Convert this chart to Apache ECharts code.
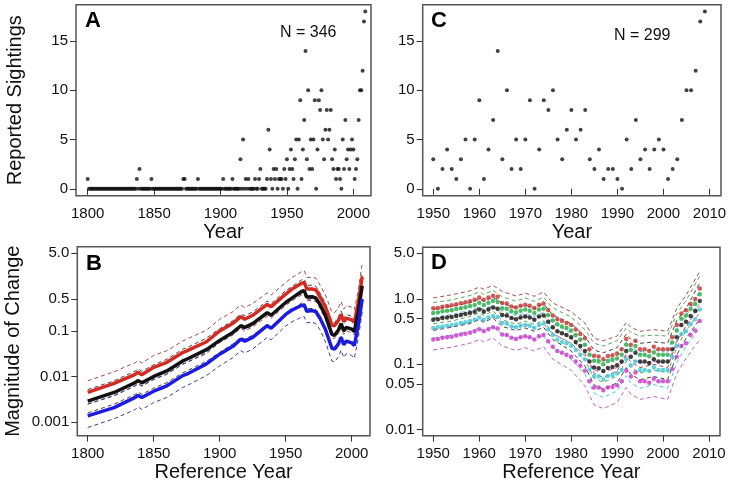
<!DOCTYPE html>
<html><head><meta charset="utf-8">
<script src="https://cdn.jsdelivr.net/npm/echarts@6/dist/echarts.min.js"></script>
<style>html,body{margin:0;padding:0;background:#fff}#c{width:732px;height:487px}</style>
</head><body><div id="c"></div>
<script>
// ---------- DATA ----------
// Panel A/C: reported sightings per year, starting 1800
const sightStartYear = 1800;
const sightings = [
  1,0,0,0,0,0,0,0,0,0,  // 1800
  0,0,0,0,0,0,0,0,0,0,  // 1810
  0,0,0,0,0,0,0,0,0,0,  // 1820
  0,0,0,0,0,0,0,1,0,2,  // 1830
  0,0,0,0,0,0,0,0,1,0,  // 1840
  0,0,0,0,0,0,0,0,0,0,  // 1850
  0,0,0,0,0,0,0,0,0,0,  // 1860
  0,0,1,1,0,0,0,0,0,0,  // 1870
  0,0,0,1,0,0,0,0,0,0,  // 1880
  0,0,0,0,0,0,0,0,0,0,  // 1890
  0,0,1,0,0,0,0,0,0,1,  // 1900
  0,0,0,0,0,3,0,5,0,1,  // 1910
  0,1,0,0,0,0,1,0,0,1,  // 1920
  2,0,0,0,0,1,6,4,1,0,  // 1930
  2,1,2,0,1,1,1,0,2,1,  // 1940
  3,0,2,4,2,1,3,5,0,5,  // 1950
  9,1,4,7,14,3,10,2,5,2, // 1960
  5,9,0,4,9,8,10,5,3,6, // 1970
  8,5,6,8,3,2,4,1,2,2,  // 1980
  1,0,5,2,7,3,4,2,4,5,  // 1990
  4,1,2,3,7,10,10,12,17,18 // 2000
];
const countTicks = [0, 5, 10, 15];
const xTicksLong = [1800, 1850, 1900, 1950, 2000];
const xTicksShort = [1950, 1960, 1970, 1980, 1990, 2000, 2010];
const logTicksB = [0.001, 0.01, 0.1, 0.5, 5];
const logTicksD = [0.01, 0.05, 0.1, 0.5, 1, 5];

// Panel B: magnitude of change, reference years 1800-2008
const bYears = [1800,1820,1836,1838,1841,1850,1860,1872,1875,1890,1900,1910,1916,1919,1925,1936,1939,1950,1955,1962,1964,1966,1970,1973,1976,1980,1985,1987,1990,1992,1994,1996,2000,2002,2005,2008];
const bRed   = [0.0045,0.0071,0.0112,0.0125,0.011,0.016,0.0206,0.0336,0.0365,0.058,0.1,0.147,0.206,0.18,0.22,0.38,0.34,0.64,0.83,1.1,1.16,0.83,0.83,0.79,0.56,0.34,0.135,0.13,0.17,0.23,0.16,0.19,0.175,0.155,0.41,1.55];
const bBlack = [0.0029,0.0045,0.0074,0.0082,0.0073,0.0101,0.0133,0.022,0.024,0.039,0.062,0.093,0.13,0.12,0.145,0.25,0.22,0.42,0.53,0.73,0.76,0.55,0.56,0.52,0.38,0.22,0.085,0.08,0.105,0.145,0.1,0.12,0.11,0.097,0.26,0.98];
const bBlue  = [0.00138,0.0021,0.0035,0.0039,0.0035,0.0048,0.0063,0.0105,0.0113,0.019,0.031,0.046,0.066,0.06,0.072,0.13,0.115,0.23,0.29,0.36,0.37,0.27,0.28,0.26,0.19,0.11,0.042,0.04,0.052,0.072,0.05,0.06,0.055,0.048,0.13,0.5];
const bRedUp   = [0.0081,0.0128,0.0202,0.0225,0.0198,0.029,0.037,0.06,0.066,0.104,0.18,0.265,0.37,0.324,0.40,0.68,0.61,1.15,1.49,1.98,2.09,1.49,1.49,1.42,1.01,0.63,0.26,0.25,0.32,0.44,0.30,0.36,0.33,0.29,0.78,3.0];
const bRedLo   = [0.0025,0.0039,0.0062,0.0069,0.0061,0.0089,0.0114,0.0187,0.0203,0.032,0.056,0.082,0.114,0.10,0.122,0.21,0.19,0.36,0.46,0.61,0.64,0.46,0.46,0.44,0.31,0.184,0.071,0.068,0.089,0.121,0.084,0.10,0.092,0.082,0.22,0.79];
const bBlackUp = [0.0052,0.0081,0.0133,0.0148,0.0131,0.0182,0.024,0.040,0.043,0.070,0.112,0.167,0.234,0.216,0.26,0.45,0.40,0.76,0.95,1.31,1.37,0.99,1.01,0.94,0.68,0.41,0.16,0.152,0.20,0.275,0.19,0.23,0.21,0.184,0.49,1.91];
const bBlackLo = [0.0016,0.0025,0.0041,0.0046,0.0041,0.0056,0.0074,0.0122,0.0133,0.0217,0.034,0.052,0.072,0.067,0.08,0.139,0.122,0.233,0.29,0.41,0.42,0.31,0.31,0.29,0.21,0.119,0.045,0.042,0.055,0.076,0.053,0.063,0.058,0.051,0.137,0.50];
const bBlueUp  = [0.0025,0.0038,0.0063,0.007,0.0063,0.0086,0.0113,0.0189,0.0203,0.034,0.056,0.083,0.119,0.108,0.13,0.234,0.207,0.41,0.52,0.65,0.67,0.49,0.50,0.47,0.34,0.20,0.08,0.076,0.099,0.137,0.095,0.114,0.105,0.091,0.25,0.98];
const bBlueLo  = [0.00077,0.0012,0.0019,0.0022,0.0019,0.0027,0.0035,0.0058,0.0063,0.0106,0.0172,0.026,0.037,0.033,0.04,0.072,0.064,0.128,0.16,0.20,0.206,0.15,0.156,0.144,0.106,0.059,0.022,0.021,0.027,0.038,0.026,0.032,0.029,0.025,0.068,0.26];

// Panel D: five estimates per reference year, 1950-2008
const dStartYear = 1950;
const dRed = [0.72,0.73,0.76,0.78,0.80,0.83,0.86,0.89,0.92,0.97, 1.05,0.97,1.05,1.12,1.08,0.87,0.85,0.77,0.74,0.79, 0.82,0.79,0.73,0.82,0.85,0.68,0.56,0.49,0.46,0.43, 0.40,0.34,0.29,0.25,0.17,0.135,0.132,0.12,0.134,0.138, 0.147,0.17,0.245,0.20,0.23,0.17,0.17,0.16,0.185,0.17, 0.17,0.17,0.26,0.40,0.60,0.67,0.84,1.0,1.45];
const dGreen = [0.61,0.62,0.65,0.66,0.67,0.70,0.72,0.75,0.78,0.81, 0.88,0.81,0.88,0.94,0.90,0.72,0.71,0.65,0.62,0.66, 0.69,0.66,0.61,0.69,0.71,0.57,0.47,0.41,0.38,0.36, 0.33,0.28,0.24,0.20,0.14,0.113,0.11,0.10,0.112,0.116, 0.123,0.14,0.20,0.165,0.19,0.14,0.14,0.133,0.152,0.14, 0.14,0.14,0.215,0.33,0.50,0.56,0.70,0.84,1.18];
const dBlack = [0.48,0.49,0.51,0.52,0.53,0.55,0.57,0.59,0.61,0.64, 0.69,0.64,0.69,0.74,0.71,0.57,0.56,0.51,0.49,0.52, 0.54,0.52,0.48,0.54,0.56,0.45,0.37,0.32,0.30,0.28, 0.26,0.22,0.19,0.16,0.11,0.089,0.087,0.079,0.088,0.091, 0.097,0.11,0.16,0.13,0.15,0.11,0.11,0.105,0.12,0.11, 0.11,0.11,0.17,0.26,0.40,0.45,0.55,0.66,0.93];
const dCyan = [0.36,0.37,0.38,0.39,0.40,0.41,0.43,0.44,0.46,0.48, 0.52,0.48,0.52,0.55,0.53,0.43,0.42,0.38,0.37,0.39, 0.40,0.39,0.36,0.40,0.42,0.34,0.28,0.24,0.22,0.21, 0.19,0.165,0.14,0.12,0.083,0.066,0.065,0.059,0.066,0.068, 0.073,0.082,0.12,0.097,0.11,0.082,0.082,0.079,0.09,0.082, 0.082,0.082,0.13,0.19,0.29,0.32,0.41,0.49,0.69];
const dMagenta = [0.24,0.245,0.255,0.26,0.265,0.275,0.285,0.295,0.305,0.32, 0.345,0.32,0.345,0.37,0.355,0.285,0.28,0.255,0.245,0.26, 0.27,0.26,0.24,0.27,0.28,0.225,0.185,0.16,0.15,0.14, 0.13,0.11,0.095,0.08,0.055,0.044,0.044,0.04,0.044,0.045, 0.048,0.055,0.08,0.065,0.075,0.055,0.055,0.052,0.06,0.055, 0.055,0.055,0.085,0.13,0.19,0.21,0.28,0.33,0.46];
const dDashYears = [1950,1954,1958,1960,1961,1963,1965,1968,1970,1972,1974,1976,1980,1983,1985,1987,1990,1992,1993,1995,1998,2001,2003,2005,2008];
const dRedUp   = [1.04,1.16,1.33,1.52,1.41,1.62,1.31,1.11,1.23,1.10,1.28,0.87,0.64,0.43,0.25,0.23,0.27,0.44,0.37,0.32,0.34,0.32,0.72,1.14,2.66];
const dRedLo   = [0.50,0.55,0.63,0.72,0.67,0.77,0.58,0.49,0.55,0.49,0.57,0.36,0.25,0.147,0.073,0.063,0.079,0.136,0.108,0.089,0.10,0.089,0.22,0.39,0.74];
const dGreenUp = [0.88,0.97,1.13,1.28,1.17,1.36,1.08,0.93,1.04,0.92,1.07,0.73,0.53,0.34,0.21,0.19,0.23,0.36,0.31,0.27,0.28,0.27,0.59,0.95,2.24];
const dGreenLo = [0.42,0.46,0.54,0.61,0.56,0.65,0.48,0.41,0.46,0.41,0.47,0.30,0.21,0.118,0.061,0.053,0.066,0.111,0.089,0.074,0.082,0.074,0.18,0.33,0.62];
const dBlackUp = [0.70,0.77,0.88,1.0,0.93,1.07,0.86,0.74,0.81,0.72,0.84,0.57,0.42,0.27,0.165,0.15,0.18,0.29,0.24,0.21,0.22,0.21,0.47,0.71,1.77];
const dBlackLo = [0.33,0.37,0.42,0.48,0.44,0.51,0.38,0.33,0.36,0.32,0.37,0.24,0.16,0.094,0.048,0.042,0.052,0.089,0.07,0.058,0.065,0.058,0.14,0.25,0.49];
const dCyanUp  = [0.52,0.58,0.67,0.75,0.70,0.80,0.65,0.56,0.60,0.54,0.63,0.43,0.30,0.20,0.122,0.112,0.135,0.22,0.18,0.156,0.167,0.156,0.34,0.54,1.31];
const dCyanLo  = [0.25,0.28,0.32,0.36,0.33,0.38,0.29,0.25,0.27,0.24,0.28,0.18,0.12,0.071,0.036,0.031,0.039,0.067,0.052,0.043,0.049,0.043,0.106,0.19,0.36];
const dMagUp   = [0.35,0.38,0.44,0.50,0.46,0.54,0.43,0.37,0.41,0.36,0.42,0.29,0.21,0.136,0.081,0.076,0.089,0.144,0.12,0.105,0.11,0.105,0.23,0.36,0.87];
const dMagLo   = [0.166,0.183,0.21,0.24,0.22,0.255,0.19,0.163,0.18,0.16,0.187,0.12,0.081,0.047,0.024,0.021,0.026,0.044,0.035,0.029,0.032,0.029,0.072,0.124,0.24];

// ---------- BUILD ----------
const F = '"Liberation Sans", Arial, Helvetica, sans-serif';
const TXT = '#111';
const pairs = (xs, ys) => xs.map((x, i) => [x, ys[i]]);
const seq = (x0, ys) => ys.map((v, i) => [x0 + i, v]);
const logFmt = v => v >= 1 ? Number(v).toFixed(1) : String(Number(Number(v).toPrecision(3)));

function xAx(gi, min, max, ticks, name, gap) {
  return {
    type: 'value', gridIndex: gi, min: min, max: max,
    name: name, nameLocation: 'middle', nameGap: gap,
    nameTextStyle: { fontSize: 20, color: TXT, fontFamily: F },
    axisLine: { show: false }, splitLine: { show: false },
    axisTick: { show: true, inside: false, length: 6, lineStyle: { color: '#333', width: 1 }, customValues: ticks },
    axisLabel: { fontSize: 15, color: TXT, fontFamily: F, margin: 11, customValues: ticks, formatter: v => String(v) }
  };
}
function yAx(gi, type, min, max, ticks, fmt, name, gap) {
  return {
    type: type, gridIndex: gi, min: min, max: max,
    name: name, nameLocation: 'middle', nameGap: gap, nameRotate: 90,
    nameTextStyle: { fontSize: 20, color: TXT, fontFamily: F },
    axisLine: { show: false }, splitLine: { show: false }, minorTick: { show: false },
    axisTick: { show: true, inside: false, length: 6, lineStyle: { color: '#333', width: 1 }, customValues: ticks },
    axisLabel: { fontSize: 15, color: TXT, fontFamily: F, margin: 8, customValues: ticks, formatter: fmt }
  };
}
function dash(xi, xs, ys, color) {
  return { type: 'line', xAxisIndex: xi, yAxisIndex: xi, data: pairs(xs, ys), showSymbol: false, symbol: 'none',
    lineStyle: { color: color, width: 1, type: [4, 3] }, silent: true, animation: false, z: 2 };
}
function thick(xs, ys, color) {
  return { type: 'line', xAxisIndex: 2, yAxisIndex: 2, data: pairs(xs, ys), showSymbol: false, symbol: 'none',
    lineStyle: { color: color, width: 3.5 }, silent: true, animation: false, z: 3 };
}
function dots(xi, data, color, size) {
  return { type: 'scatter', xAxisIndex: xi, yAxisIndex: xi, data: data, symbol: 'circle', symbolSize: size,
    itemStyle: { color: color }, silent: true, animation: false, z: 4 };
}

const sightPairs = seq(sightStartYear, sightings);
const gridStyle = { show: true, borderColor: '#555', borderWidth: 1.5, backgroundColor: 'transparent' };

const option = {
  backgroundColor: '#fff',
  animation: false,
  grid: [
    Object.assign({ left: 76, top: 4.7, width: 295, height: 191 }, gridStyle),
    Object.assign({ left: 422.7, top: 4.7, width: 298.3, height: 191 }, gridStyle),
    Object.assign({ left: 77.3, top: 246.7, width: 292.7, height: 189 }, gridStyle),
    Object.assign({ left: 422.7, top: 247.3, width: 297.3, height: 188.4 }, gridStyle)
  ],
  xAxis: [
    xAx(0, 1791.2, 2013.3, xTicksLong, 'Year', 27),
    xAx(1, 1947.7, 2012.5, xTicksShort, 'Year', 27),
    xAx(2, 1792.1, 2013.9, xTicksLong, 'Reference Year', 24),
    xAx(3, 1947.7, 2012.4, xTicksShort, 'Reference Year', 24)
  ],
  yAxis: [
    yAx(0, 'value', -0.7, 18.7, countTicks, v => String(v), 'Reported Sightings', 51),
    yAx(1, 'value', -0.7, 18.7, countTicks, v => String(v), '', 0),
    yAx(2, 'log', 0.000509, 6.98, logTicksB, logFmt, 'Magnitude of Change', 54),
    yAx(3, 'log', 0.00807, 6.19, logTicksD, logFmt, '', 0)
  ],
  graphic: [
    { type: 'text', left: 85, top: 10, style: { text: 'A', font: 'bold 22px ' + F, fill: '#000' } },
    { type: 'text', left: 86, top: 253, style: { text: 'B', font: 'bold 22px ' + F, fill: '#000' } },
    { type: 'text', left: 431, top: 10, style: { text: 'C', font: 'bold 22px ' + F, fill: '#000' } },
    { type: 'text', left: 431, top: 252, style: { text: 'D', font: 'bold 22px ' + F, fill: '#000' } },
    { type: 'text', left: 280, top: 25, style: { text: 'N = 346', font: '16px ' + F, fill: TXT } },
    { type: 'text', left: 614, top: 28, style: { text: 'N = 299', font: '16px ' + F, fill: TXT } }
  ],
  series: [
    dots(0, sightPairs, '#111', 4),
    dots(1, sightPairs.filter(d => d[0] >= 1950), '#111', 4),
    dash(2, bYears, bRedUp, '#a84848'),
    dash(2, bYears, bRedLo, '#a84848'),
    dash(2, bYears, bBlackUp, '#444'),
    dash(2, bYears, bBlackLo, '#444'),
    dash(2, bYears, bBlueUp, '#3a3a98'),
    dash(2, bYears, bBlueLo, '#3a3a98'),
    thick(bYears, bRed, '#d42a24'),
    thick(bYears, bBlack, '#111'),
    thick(bYears, bBlue, '#1c1ce0'),
    dash(3, dDashYears, dRedUp, '#a8504a'),
    dash(3, dDashYears, dRedLo, '#a8504a'),
    dash(3, dDashYears, dGreenUp, '#5aa85a'),
    dash(3, dDashYears, dGreenLo, '#5aa85a'),
    dash(3, dDashYears, dBlackUp, '#444'),
    dash(3, dDashYears, dBlackLo, '#444'),
    dash(3, dDashYears, dCyanUp, '#48c8d0'),
    dash(3, dDashYears, dCyanLo, '#48c8d0'),
    dash(3, dDashYears, dMagUp, '#c060c0'),
    dash(3, dDashYears, dMagLo, '#c060c0'),
    dots(3, seq(dStartYear, dRed), '#c4302a', 4.5),
    dots(3, seq(dStartYear, dGreen), '#22aa44', 4.5),
    dots(3, seq(dStartYear, dBlack), '#111', 4.5),
    dots(3, seq(dStartYear, dCyan), '#3cc8d2', 4.5),
    dots(3, seq(dStartYear, dMagenta), '#cc33cc', 4.5)
  ]
};
const chart = echarts.init(document.getElementById('c'), null, { renderer: 'canvas' });
chart.setOption(option);
</script>
</body></html>
